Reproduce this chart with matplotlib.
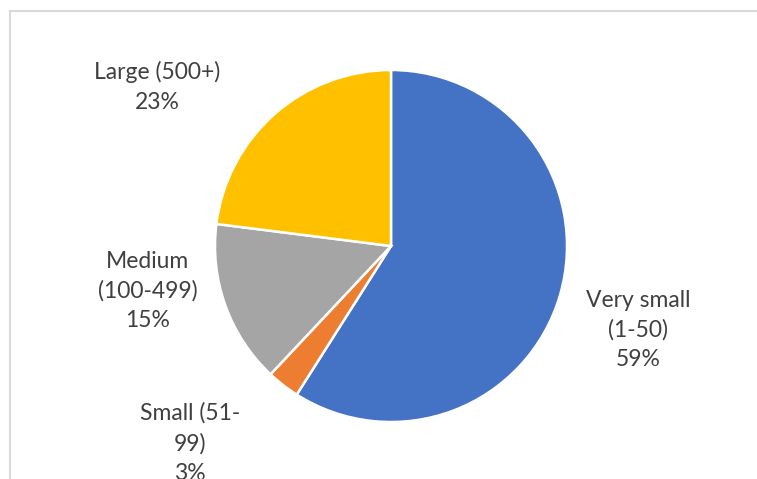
import matplotlib
matplotlib.use("Agg")
import matplotlib.pyplot as plt
from matplotlib.lines import Line2D

categories = ["Very small\n(1-50)", "Small (51-\n99)", "Medium\n(100-499)", "Large (500+)"]
shares = [59, 3, 15, 23]
colors = ["#4472C4", "#ED7D31", "#A5A5A5", "#FFC000"]

W, H = 757, 479
fig = plt.figure(figsize=(W / 100, H / 100), dpi=100)
ax = fig.add_axes([0, 0, 1, 1])

cx, cy, r = 391, H - 246, 176
wedges, _ = ax.pie(
    shares, colors=colors, startangle=90, counterclock=False,
    center=(cx, cy), radius=r, frame=True,
    wedgeprops=dict(edgecolor="white", linewidth=1.8),
)
ax.set_xlim(0, W)
ax.set_ylim(0, H)
ax.axis("off")

# chart area border (top and left edges visible)
fig.add_artist(Line2D([9.5 / W, 1.0], [1 - 10.5 / H, 1 - 10.5 / H],
                      transform=fig.transFigure, color="#d9d9d9", lw=1.5))
fig.add_artist(Line2D([9.5 / W, 9.5 / W], [0, 1 - 10.5 / H],
                      transform=fig.transFigure, color="#d9d9d9", lw=1.5))

label_pos = [(638, 330), (190, 443), (148, 291), (157, 87)]
for cat, val, (x, y) in zip(categories, shares, label_pos):
    text = f"{cat}\n{val}%"
    ax.text(x, H - y, text, ha="center", va="center", fontsize=16.5,
            color="#404040", family="Lato", linespacing=1.5)

fig.savefig("out.png", dpi=100)
